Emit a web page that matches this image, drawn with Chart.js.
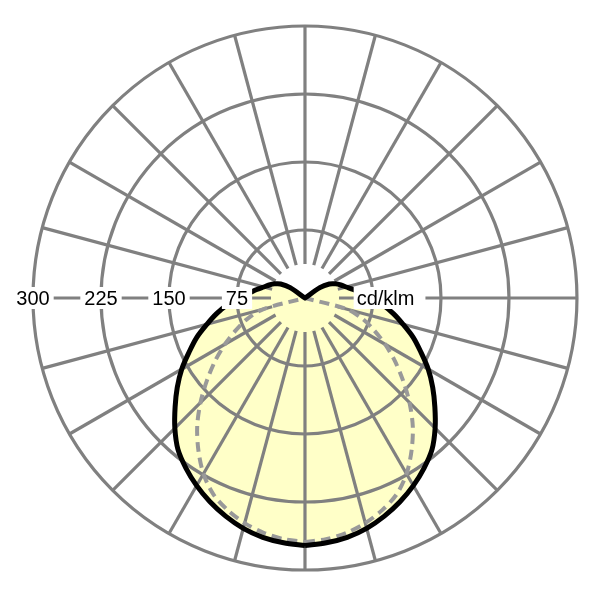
<!DOCTYPE html>
<html><head><meta charset="utf-8">
<script src="https://cdn.jsdelivr.net/npm/chart.js@4/dist/chart.umd.min.js"></script>
<style>html,body{margin:0;padding:0;background:#fff}#wrap{width:600px;height:600px;position:relative}</style>
</head><body><div id="wrap"><canvas id="c"></canvas></div>
<script>
// gamma angle (deg, 0 = straight down) for each sample
const gammaAngles = [0,5,10,15,20,25,30,35,40,45,50,55,60,65,70,75,80,85,90,95,100,105,110,115,120,125,130,135,140,145,150,155,160,165,170,175,180];
// C0-C180 plane, cd/klm (solid)
const intensityC0 = [273,271,268,263,256,248,239,229,218,203,187,172,157,141,127,112,99,86,74,62,54,47,42,37,31,20,0,0,0,0,0,0,0,0,0,0,0];
// C90-C270 plane, cd/klm (dashed)
const intensityC90 = [269,267,263,257,249,239,224,205,185,163,141,121,102,84,68,48,0,0,0,0,0,0,0,0,0,0,0,0,0,0,0,0,0,0,0,0,0];
const ringValues = [75,150,225,300];
const ringLabels = ['75','150','225','300'];
const spokeAngles = [0,15,30,45,60,75,90,105,120,135,150,165,180,195,210,225,240,255,270,285,300,315,330,345];
const spokeInner = 37.5;
const unitLabel = 'cd/klm';

function toCurve(vals){
  const pts = [];
  const rad = Math.PI/180;
  for (let i=0;i<gammaAngles.length;i++){
    const g = gammaAngles[i]*rad, r = vals[i];
    pts.push({x: r*Math.sin(g), y: -r*Math.cos(g)});
  }
  for (let i=gammaAngles.length-1;i>=0;i--){
    const g = gammaAngles[i]*rad, r = vals[i];
    pts.push({x: -r*Math.sin(g), y: -r*Math.cos(g)});
  }
  return pts;
}

const FONT = '20px "Liberation Sans", Arial, sans-serif';
const GRID = '#808080';

const gridPlugin = {
  id: 'polarGrid',
  afterDatasetDraw(chart, args){
    if (args.index !== 0) return;
    const ctx = chart.ctx, xs = chart.scales.x, ys = chart.scales.y;
    const cx = xs.getPixelForValue(0), cy = ys.getPixelForValue(0);
    const k = xs.getPixelForValue(1) - cx;
    ctx.save();
    ctx.strokeStyle = GRID; ctx.lineWidth = 3.2;
    ringValues.forEach(v=>{
      ctx.beginPath(); ctx.arc(cx, cy, v*k, 0, Math.PI*2); ctx.stroke();
    });
    const maxR = ringValues[ringValues.length-1];
    spokeAngles.forEach(a=>{
      const t = a*Math.PI/180;
      const sx = Math.sin(t), sy = Math.cos(t);
      ctx.beginPath();
      ctx.moveTo(xs.getPixelForValue(spokeInner*sx), ys.getPixelForValue(-spokeInner*sy));
      ctx.lineTo(xs.getPixelForValue(maxR*sx), ys.getPixelForValue(-maxR*sy));
      ctx.stroke();
    });
    ctx.restore();
  },
  afterDatasetsDraw(chart){
    const ctx = chart.ctx, xs = chart.scales.x, ys = chart.scales.y;
    const cy = ys.getPixelForValue(0);
    ctx.save();
    ctx.font = FONT; ctx.textBaseline = 'middle';
    ringValues.forEach((v,i)=>{
      const px = xs.getPixelForValue(-v);
      const w = ctx.measureText(ringLabels[i]).width;
      ctx.fillStyle = '#fff';
      ctx.fillRect(px - w/2 - 4, cy - 11, w + 8, 22);
      ctx.fillStyle = '#000'; ctx.textAlign = 'center';
      ctx.fillText(ringLabels[i], px, cy + 1);
    });
    const ux = xs.getPixelForValue(57);
    const uw = ctx.measureText(unitLabel).width;
    ctx.fillStyle = '#fff';
    ctx.fillRect(ux - 3, cy - 11, uw + 14, 22);
    ctx.fillStyle = '#000'; ctx.textAlign = 'left';
    ctx.fillText(unitLabel, ux, cy + 1);
    ctx.restore();
  }
};

const solidPts = toCurve(intensityC0);
const dashPts = toCurve(intensityC90);

new Chart(document.getElementById('c'), {
  type: 'scatter',
  data: { datasets: [
    { data: solidPts, showLine: true, tension: 0.3, borderWidth: 0, borderColor: 'rgba(0,0,0,0)', backgroundColor: '#FFFFC8', fill: 'shape', pointRadius: 0, order: 3 },
    { data: dashPts, showLine: true, tension: 0.3, borderWidth: 4, borderColor: '#999999', borderDash: [10,6], fill: false, pointRadius: 0, order: 2 },
    { data: solidPts, showLine: true, tension: 0.3, borderWidth: 5, borderColor: '#000000', fill: false, pointRadius: 0, borderJoinStyle: 'round', order: 1 }
  ]},
  options: {
    responsive: true, maintainAspectRatio: false, animation: false,
    layout: { padding: 0 },
    plugins: { legend: { display: false }, tooltip: { enabled: false } },
    scales: {
      x: { type: 'linear', display: false, min: -336.4, max: 325.4 },
      y: { type: 'linear', display: false, min: -333.1, max: 328.7 }
    }
  },
  plugins: [gridPlugin]
});
</script>
</body></html>
